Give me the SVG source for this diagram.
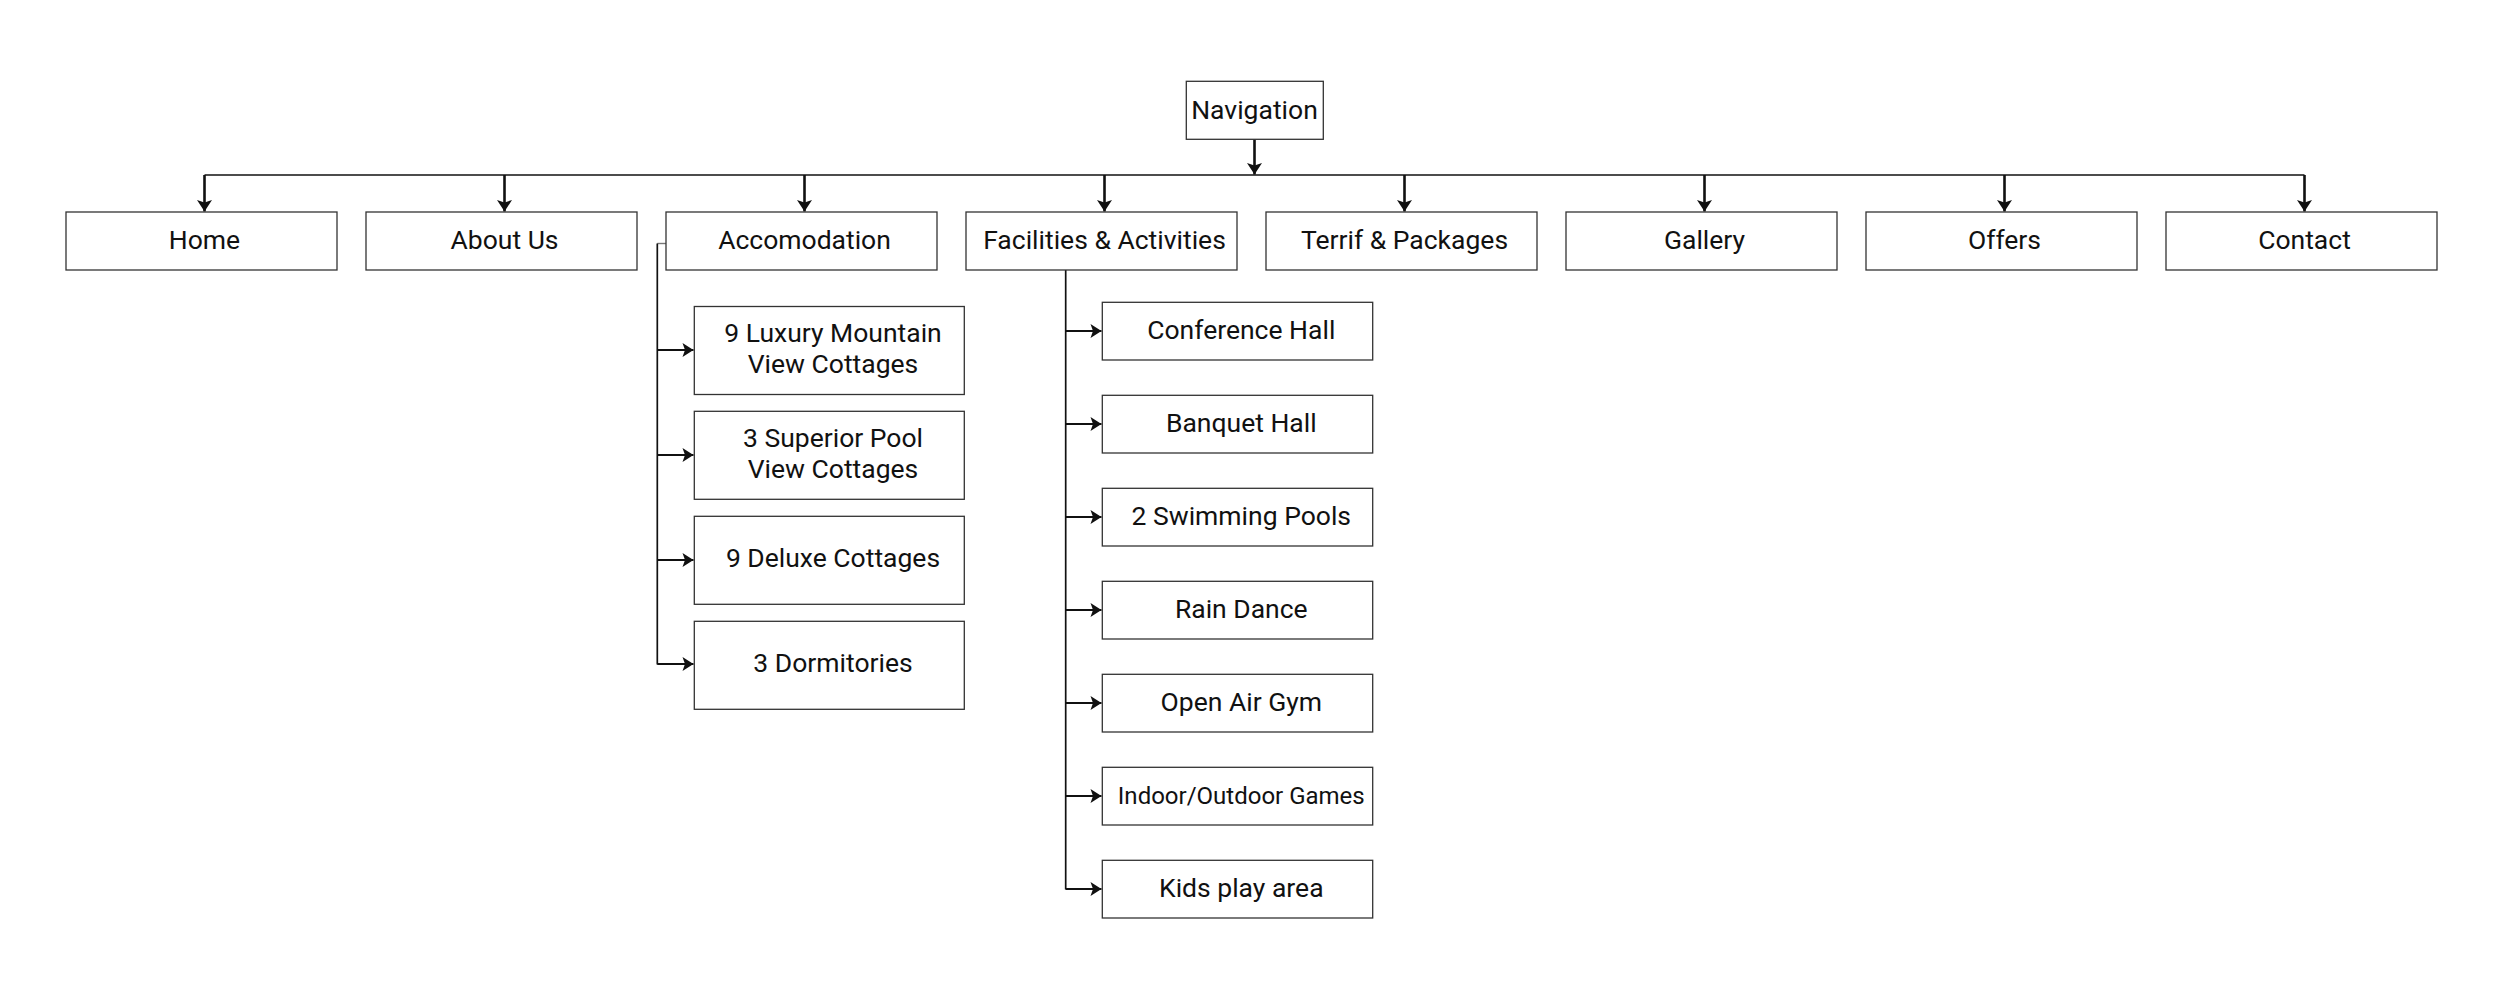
<svg xmlns="http://www.w3.org/2000/svg" width="2516" height="1000" viewBox="0 0 2516 1000">
  <style>
    .box { fill: #ffffff; stroke: #333333; stroke-width: 1.3; }
    .lbl { font-family: Roboto, "Liberation Sans", sans-serif; font-size: 26.5px; fill: #111111; text-anchor: middle; }
    .sm { font-size: 24px; }
    .wire { fill: none; stroke: #111111; stroke-width: 1.7; }
    .arr { fill: none; stroke: #111111; stroke-width: 2.6; marker-end: url(#ah); }
    .arrh { fill: none; stroke: #111111; stroke-width: 2.2; marker-end: url(#ahs); }
    .stub { fill: none; stroke: #777777; stroke-width: 1.4; }
  </style>
  <defs>
    <marker id="ah" markerUnits="userSpaceOnUse" viewBox="-13 -9 14 18" refX="0" refY="0" markerWidth="14" markerHeight="18" orient="auto">
      <path d="M0,0 L-11.5,-7.5 L-9,0 L-11.5,7.5 Z" fill="#111111"/>
    </marker>
    <marker id="ahs" markerUnits="userSpaceOnUse" viewBox="-13 -9 14 18" refX="0" refY="0" markerWidth="14" markerHeight="18" orient="auto">
      <path d="M0,0 L-11,-7 L-8.5,0 L-11,7 Z" fill="#111111"/>
    </marker>
  </defs>
  <rect width="2516" height="1000" fill="#ffffff"/>

  <g id="connectors">
    <line class="arr" x1="1254.5" y1="139.5" x2="1254.5" y2="174.5"/>
    <line class="wire" x1="204.5" y1="175" x2="2304.5" y2="175"/>
    <line class="arr" x1="204.5" y1="175" x2="204.5" y2="211.5"/>
    <line class="arr" x1="504.5" y1="175" x2="504.5" y2="211.5"/>
    <line class="arr" x1="804.5" y1="175" x2="804.5" y2="211.5"/>
    <line class="arr" x1="1104.5" y1="175" x2="1104.5" y2="211.5"/>
    <line class="arr" x1="1404.5" y1="175" x2="1404.5" y2="211.5"/>
    <line class="arr" x1="1704.5" y1="175" x2="1704.5" y2="211.5"/>
    <line class="arr" x1="2004.5" y1="175" x2="2004.5" y2="211.5"/>
    <line class="arr" x1="2304.5" y1="175" x2="2304.5" y2="211.5"/>

    <line class="stub" x1="666" y1="243.5" x2="657.3" y2="243.5"/>
    <line class="wire" x1="657.3" y1="243.5" x2="657.3" y2="664.5"/>
    <line class="arrh" x1="657.3" y1="350" x2="693.5" y2="350"/>
    <line class="arrh" x1="657.3" y1="455" x2="693.5" y2="455"/>
    <line class="arrh" x1="657.3" y1="560" x2="693.5" y2="560"/>
    <line class="arrh" x1="657.3" y1="664" x2="693.5" y2="664"/>

    <line class="wire" x1="1065.7" y1="270" x2="1065.7" y2="889.5"/>
    <line class="arrh" x1="1065.7" y1="331" x2="1101.5" y2="331"/>
    <line class="arrh" x1="1065.7" y1="424" x2="1101.5" y2="424"/>
    <line class="arrh" x1="1065.7" y1="517" x2="1101.5" y2="517"/>
    <line class="arrh" x1="1065.7" y1="610" x2="1101.5" y2="610"/>
    <line class="arrh" x1="1065.7" y1="703" x2="1101.5" y2="703"/>
    <line class="arrh" x1="1065.7" y1="796" x2="1101.5" y2="796"/>
    <line class="arrh" x1="1065.7" y1="889" x2="1101.5" y2="889"/>
  </g>

  <g id="navigation">
    <rect class="box" x="1186.3" y="81.3" width="137" height="58"/>
    <text class="lbl" x="1254.5" y="118.5">Navigation</text>
  </g>

  <g id="home">
    <rect class="box" x="66" y="212" width="271" height="58"/>
    <text class="lbl" x="204.5" y="248.5">Home</text>
  </g>
  <g id="about-us">
    <rect class="box" x="366" y="212" width="271" height="58"/>
    <text class="lbl" x="504.5" y="248.5">About Us</text>
  </g>
  <g id="accomodation">
    <rect class="box" x="666" y="212" width="271" height="58"/>
    <text class="lbl" x="804.5" y="248.5">Accomodation</text>
  </g>
  <g id="facilities">
    <rect class="box" x="966" y="212" width="271" height="58"/>
    <text class="lbl" x="1104.5" y="248.5">Facilities &amp; Activities</text>
  </g>
  <g id="terrif">
    <rect class="box" x="1266" y="212" width="271" height="58"/>
    <text class="lbl" x="1404.5" y="248.5">Terrif &amp; Packages</text>
  </g>
  <g id="gallery">
    <rect class="box" x="1566" y="212" width="271" height="58"/>
    <text class="lbl" x="1704.5" y="248.5">Gallery</text>
  </g>
  <g id="offers">
    <rect class="box" x="1866" y="212" width="271" height="58"/>
    <text class="lbl" x="2004.5" y="248.5">Offers</text>
  </g>
  <g id="contact">
    <rect class="box" x="2166" y="212" width="271" height="58"/>
    <text class="lbl" x="2304.5" y="248.5">Contact</text>
  </g>

  <g id="luxury-mountain">
    <rect class="box" x="694.3" y="306.5" width="270" height="88"/>
    <text class="lbl" x="833" y="342">9 Luxury Mountain</text>
    <text class="lbl" x="833" y="373">View Cottages</text>
  </g>
  <g id="superior-pool">
    <rect class="box" x="694.3" y="411.3" width="270" height="88"/>
    <text class="lbl" x="833" y="446.7">3 Superior Pool</text>
    <text class="lbl" x="833" y="477.5">View Cottages</text>
  </g>
  <g id="deluxe">
    <rect class="box" x="694.3" y="516.3" width="270" height="88"/>
    <text class="lbl" x="833" y="567">9 Deluxe Cottages</text>
  </g>
  <g id="dormitories">
    <rect class="box" x="694.3" y="621.3" width="270" height="88"/>
    <text class="lbl" x="833" y="672">3 Dormitories</text>
  </g>

  <g id="conference">
    <rect class="box" x="1102.3" y="302.3" width="270.4" height="57.7"/>
    <text class="lbl" x="1241.3" y="338.5">Conference Hall</text>
  </g>
  <g id="banquet">
    <rect class="box" x="1102.3" y="395.3" width="270.4" height="57.7"/>
    <text class="lbl" x="1241.3" y="431.5">Banquet Hall</text>
  </g>
  <g id="swimming">
    <rect class="box" x="1102.3" y="488.3" width="270.4" height="57.7"/>
    <text class="lbl" x="1241.3" y="524.5">2 Swimming Pools</text>
  </g>
  <g id="rain-dance">
    <rect class="box" x="1102.3" y="581.3" width="270.4" height="57.7"/>
    <text class="lbl" x="1241.3" y="617.5">Rain Dance</text>
  </g>
  <g id="open-air-gym">
    <rect class="box" x="1102.3" y="674.3" width="270.4" height="57.7"/>
    <text class="lbl" x="1241.3" y="710.5">Open Air Gym</text>
  </g>
  <g id="games">
    <rect class="box" x="1102.3" y="767.3" width="270.4" height="57.7"/>
    <text class="lbl sm" x="1241.3" y="803.5">Indoor/Outdoor Games</text>
  </g>
  <g id="kids">
    <rect class="box" x="1102.3" y="860.3" width="270.4" height="57.7"/>
    <text class="lbl" x="1241.3" y="896.5">Kids play area</text>
  </g>
</svg>
